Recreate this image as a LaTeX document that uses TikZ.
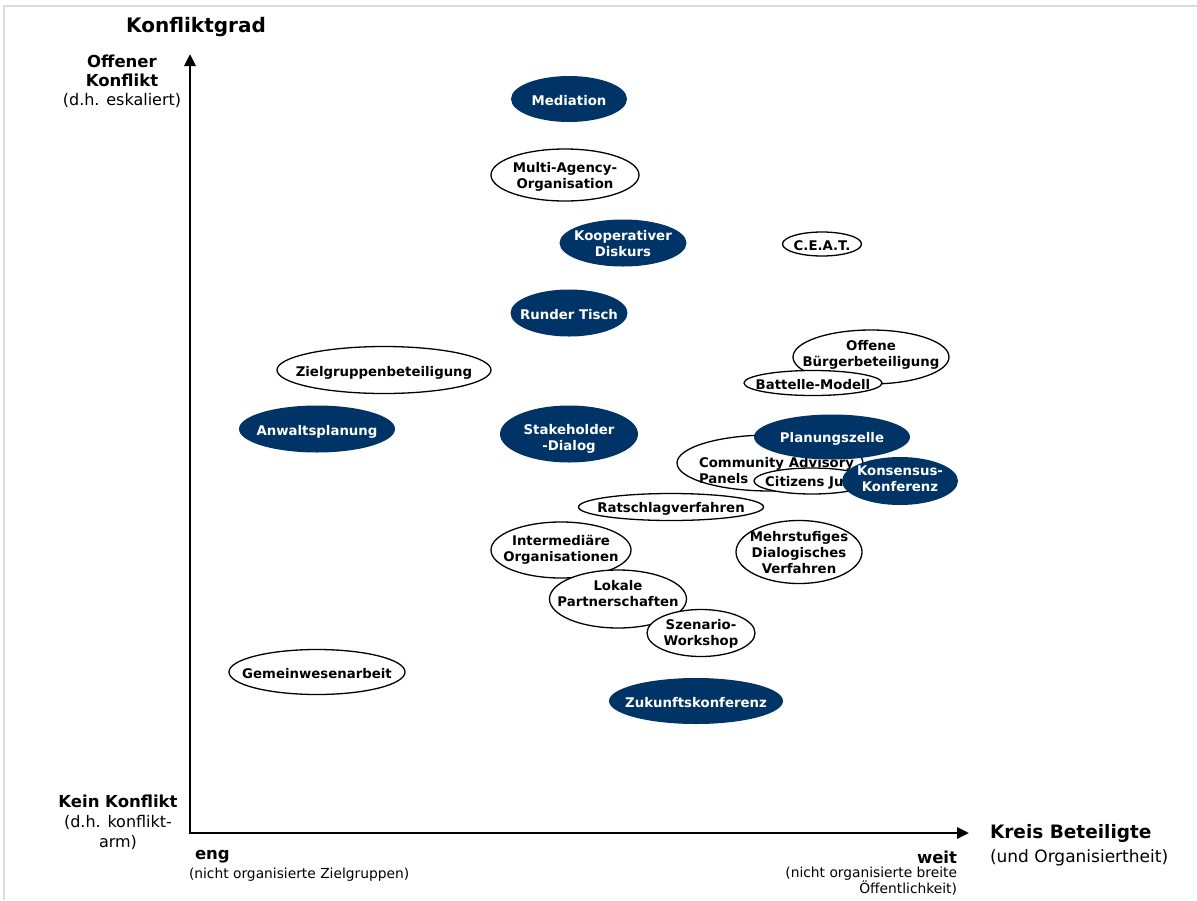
\documentclass[tikz,border=0pt]{standalone}
\usepackage{fontspec}
\setmainfont{DejaVu Sans}
\usetikzlibrary{shapes.geometric,arrows.meta}
\definecolor{navy}{HTML}{003366}
\definecolor{framegray}{HTML}{DCDCDC}

\begin{document}
\begin{tikzpicture}[x=1pt,y=-1pt,
  every node/.style={inner sep=0pt, outer sep=0pt},
  lbl/.style={font=\fontsize{13.3}{16}\selectfont\bfseries, align=center, yshift=-1.5pt},
  open/.style 2 args={ellipse, draw=black, line width=1.3pt, fill=white,
    minimum width=#1, minimum height=#2},
  dark/.style 2 args={ellipse, fill=navy, minimum width=#1, minimum height=#2},
  wt/.style={lbl, text=white},
  axis/.style={line width=2.8pt,
    {Triangle[length=12pt,width=11pt]}-{Triangle[length=12pt,width=11pt]}},
  axhead/.style={font=\fontsize{20}{24}\selectfont\bfseries},
  axbold/.style={font=\fontsize{16.5}{19.5}\selectfont\bfseries},
  axsmall/.style={font=\fontsize{13.8}{16}\selectfont}
]
\useasboundingbox (0,0) rectangle (1197,900);
\fill[white] (0,0) rectangle (1197,900);
\draw[framegray, line width=2pt] (1197,6) -- (4,6) -- (4,900);

% axes
\coordinate (O) at (190,833);
\coordinate (ytop) at (190,54);
\coordinate (xend) at (969,833);
\draw[axis] (ytop) -- (O) -- (xend);

% axis texts
\node[axhead] (ytitle) at (196,27) {Konfliktgrad};
\node[align=center, font=\fontsize{16.5}{19}\selectfont] (yhigh) at (122,81)
  {\textbf{Offener}\\\textbf{Konflikt}\\{\fontsize{16}{19}\selectfont (d.h. eskaliert)}};
\node[align=center, font=\fontsize{16.5}{20}\selectfont] (ylow) at (118,822)
  {\textbf{Kein Konflikt}\\{\fontsize{16}{20}\selectfont (d.h. konflikt-}\\{\fontsize{16}{20}\selectfont arm)}};
\node[axbold, anchor=west] (xlow) at (195,857) {eng};
\node[axsmall, anchor=west] (xlowsub) at (189,875) {(nicht organisierte Zielgruppen)};
\node[axbold, anchor=east] (xhigh) at (957,857) {weit};
\node[axsmall, anchor=north east, align=right] (xhighsub) at (957,867)
  {(nicht organisierte breite\\Öffentlichkeit)};
\node[anchor=west, align=left, font=\fontsize{17}{24}\selectfont] (xtitle) at (990,845)
  {{\fontsize{18.5}{24}\selectfont\bfseries Kreis Beteiligte}\\(und Organisiertheit)};

% methods
\node[dark={116}{46}, label={[wt]center:Mediation}] (med) at (569,99) {};
\node[open={148}{52}, label={[lbl,yshift=-0.5pt]center:{Multi-Agency-\\Organisation}}] (mao) at (565,175) {};
\node[dark={127}{47}, label={[wt,yshift=1pt]center:{Kooperativer\\Diskurs}}] (kd) at (623,243) {};
\node[open={79}{24}, label={[lbl]center:C.E.A.T.}] (ceat) at (822,244) {};
\node[dark={117}{47}, label={[wt]center:Runder Tisch}] (rt) at (569,313) {};
\node[open={156}{54}, label={[lbl,yshift=3.5pt]center:{Offene\\Bürgerbeteiligung}}] (obb) at (871,357) {};
\node[open={138}{25}, label={[lbl]center:Battelle-Modell}] (bm) at (813,383) {};
\node[open={214}{47}, label={[lbl,yshift=-1pt]center:Zielgruppenbeteiligung}] (zgb) at (384,370) {};
\node[dark={156}{47}, label={[wt,yshift=-1pt]center:Anwaltsplanung}] (awp) at (317,429) {};
\node[dark={138}{57}, label={[wt,yshift=-3pt]center:{Stakeholder\\-Dialog}}] (skd) at (569,434) {};
\node[open={186}{56}] (cap) at (770,463) {};
\node[lbl, align=left, anchor=west] (captext) at (699,469) {Community Advisory\\Panels};
\node[open={116}{26}, label={[lbl]center:Citizens Jury}] (cj) at (812,481) {};
\node[dark={156}{45}, label={[wt]center:Planungszelle}] (pz) at (832,437) {};
\node[dark={116}{48}, label={[wt,yshift=3.5pt]center:{Konsensus-\\Konferenz}}] (kk) at (900,481) {};
\node[open={185}{27}, label={[lbl]center:Ratschlagverfahren}] (rsv) at (671,507) {};
\node[open={140}{56}, label={[lbl,yshift=2pt]center:{Intermediäre\\Organisationen}}] (io) at (561,550) {};
\node[open={126}{63}, label={[lbl,yshift=1pt]center:{Mehrstufiges\\Dialogisches\\Verfahren}}] (mdv) at (799,552) {};
\node[open={137}{58}, label={[lbl,yshift=6.5pt]center:{Lokale\\Partnerschaften}}] (lp) at (618,599) {};
\node[open={108}{47}, label={[lbl,yshift=1pt]center:{Szenario-\\Workshop}}] (sw) at (701,633) {};
\node[open={176}{45}, label={[lbl]center:Gemeinwesenarbeit}] (gwa) at (317,672) {};
\node[dark={174}{46}, label={[wt]center:Zukunftskonferenz}] (zk) at (696,701) {};
\end{tikzpicture}
\end{document}
